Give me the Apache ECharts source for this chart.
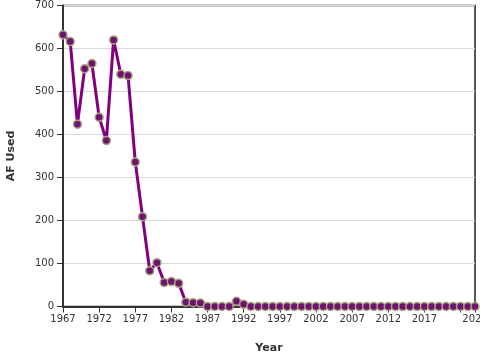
<!DOCTYPE html>
<html>
<head>
<meta charset="utf-8">
<script src="https://cdn.jsdelivr.net/npm/echarts@6/dist/echarts.min.js"></script>
<style>html,body{margin:0;padding:0;background:#fff}#c{width:480px;height:360px}</style>
</head>
<body>
<div id="c"></div>
<script>
var years = [1967,1968,1969,1970,1971,1972,1973,1974,1975,1976,1977,1978,1979,1980,1981,1982,1983,1984,1985,1986,
  1987,1988,1989,1990,1991,1992,1993,1994,1995,1996,1997,1998,1999,2000,2001,2002,2003,2004,2005,2006,
  2007,2008,2009,2010,2011,2012,2013,2014,2015,2016,2017,2018,2019,2020,2021,2022,2023,2024];
var afUsed = [632,616,424,553,565,440,386,620,540,537,336,209,83,102,56,58,54,10,9,8,
  0,0,0,0,12,5,0,0,0,0,0,0,0,0,0,0,0,0,0,0,
  0,0,0,0,0,0,0,0,0,0,0,0,0,0,0,0,0,0];
var hiddenXLabels = [2022];
var xName = 'Year';
var yName = 'AF Used';

var data = years.map(function(y, i){ return [y, afUsed[i]]; });
var font = 'DejaVu Sans';
var chart = echarts.init(document.getElementById('c'), null, {renderer:'canvas'});
chart.setOption({
  animation: false,
  grid: {left: 63, right: 5, top: 5.5, bottom: 53.5, outerBoundsMode: 'none', containLabel: false,
    show: true, borderColor: '#222', borderWidth: 1.5, backgroundColor: 'transparent'},
  xAxis: {
    type: 'value', min: 1967, max: 2024, interval: 5,
    name: xName, nameLocation: 'middle', nameGap: 36,
    nameTextStyle: {fontFamily: font, fontWeight: 'bold', fontSize: 11, color: '#333'},
    axisLine: {show: true, onZero: false, lineStyle: {color: '#333', width: 2}},
    axisTick: {show: true, length: 6, lineStyle: {color: '#333'}},
    axisLabel: {fontFamily: font, fontSize: 10, color: '#333', margin: 8,
      showMinLabel: true, showMaxLabel: true,
      formatter: function(v){ return hiddenXLabels.indexOf(v) >= 0 ? '' : String(v); }},
    splitLine: {show: false}
  },
  yAxis: {
    type: 'value', min: 0, max: 700, interval: 100,
    name: yName, nameLocation: 'middle', nameGap: 46, nameRotate: 90,
    nameTextStyle: {fontFamily: font, fontWeight: 'bold', fontSize: 11, color: '#333'},
    axisLine: {show: true, lineStyle: {color: '#333', width: 2}},
    axisTick: {show: true, length: 6, lineStyle: {color: '#333'}},
    axisLabel: {fontFamily: font, fontSize: 10, color: '#333', margin: 9},
    splitLine: {show: true, lineStyle: {color: '#d9d9d9', width: 1}}
  },
  series: [{
    type: 'line', data: data,
    symbol: 'circle', symbolSize: 8, showAllSymbol: true,
    lineStyle: {color: '#800080', width: 3},
    itemStyle: {color: '#6e1470', borderColor: '#a9a382', borderWidth: 1.5},
    z: 3
  }]
});
</script>
</body>
</html>
